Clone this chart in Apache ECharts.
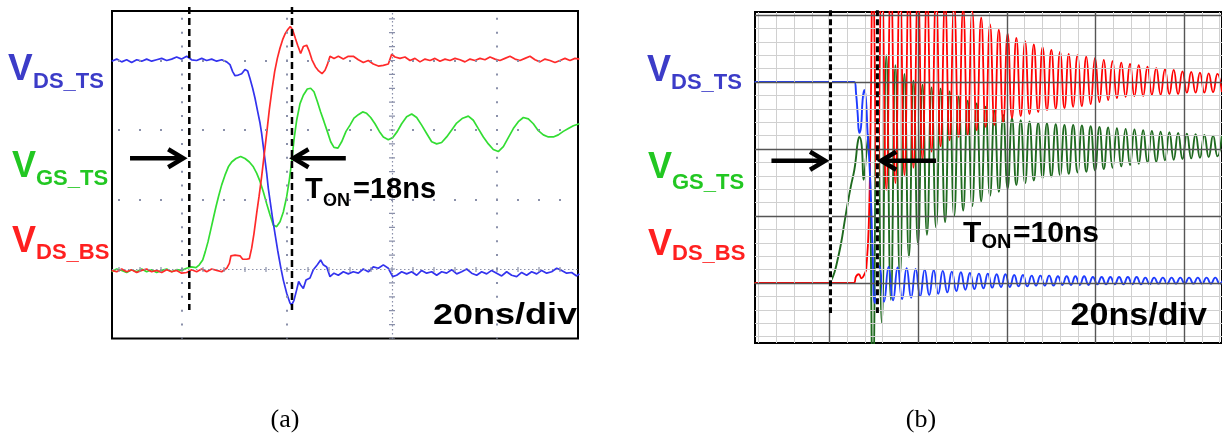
<!DOCTYPE html>
<html><head><meta charset="utf-8">
<script src="https://cdn.jsdelivr.net/npm/echarts@6/dist/echarts.min.js"></script>
<style>html,body{margin:0;padding:0;background:#fff;}#c{width:1222px;height:437px;}</style>
</head><body><div id="c"></div>
<script>
// ===================== DATA =====================
// Panel (a): time in ns (20 ns/div), voltage in divisions
const blueA = [[-13.4,2.99],[-12.44,3.02],[-11.49,2.98],[-10.54,3.01],[-9.59,2.97],[-8.63,3.01],[-7.68,2.99],[-6.73,3.02],[-5.78,2.99],[-4.83,3.01],[-3.87,3.03],[-2.92,3.0],[-1.97,3.02],[-1.02,3.05],[-0.06,3.02],[0.89,3.06],[1.84,3.01],[2.79,3.0],[3.75,3.03],[4.7,3.0],[5.65,3.02],[6.6,2.99],[7.56,3.01],[8.51,2.98],[9.14,2.94],[9.65,2.84],[10.1,2.78],[10.73,2.79],[11.37,2.81],[12.0,2.87],[12.51,2.85],[12.95,2.74],[13.46,2.6],[13.9,2.46],[14.35,2.29],[14.86,2.1],[15.17,1.95],[15.49,1.76],[15.81,1.57],[16.13,1.38],[16.44,1.16],[16.76,0.99],[17.21,0.75],[17.71,0.51],[18.22,0.27],[18.79,0.03],[19.3,-0.16],[19.94,-0.35],[20.57,-0.49],[20.89,-0.52],[21.33,-0.45],[21.84,-0.3],[22.22,-0.18],[22.6,-0.23],[23.11,-0.28],[23.62,-0.16],[24.38,-0.13],[25.02,-0.01],[25.78,0.06],[26.41,0.13],[26.92,0.06],[27.56,0.03],[28.19,-0.11],[28.95,-0.06],[29.78,-0.09],[30.73,-0.04],[31.68,-0.07],[32.63,-0.04],[33.59,-0.06],[34.54,0.0],[35.49,-0.04],[36.44,0.03],[37.4,0.01],[38.35,0.06],[39.3,0.01],[40.13,-0.11],[40.89,-0.09],[41.84,-0.04],[42.79,-0.07],[43.75,-0.04],[44.7,-0.09],[45.65,-0.02],[46.6,-0.06],[47.56,-0.04],[48.51,-0.09],[49.46,-0.04],[50.41,-0.06],[51.37,-0.01],[52.32,-0.07],[53.27,-0.04],[54.22,0.0],[55.17,-0.06],[56.13,-0.09],[57.08,-0.04],[58.03,-0.07],[58.98,-0.02],[59.94,-0.06],[60.89,-0.1],[61.84,-0.04],[62.79,-0.09],[63.75,-0.11],[64.7,-0.05],[65.65,-0.09],[66.6,-0.04],[67.56,-0.07],[68.51,-0.02],[69.46,-0.06],[70.41,-0.04],[71.37,0.01],[72.32,-0.02],[73.27,-0.06],[74.22,-0.05],[75.17,-0.1],[75.68,-0.07]];
const redA = [[-13.4,-0.02],[-12.44,-0.04],[-11.49,0.0],[-10.54,-0.04],[-9.59,-0.01],[-8.63,-0.05],[-7.68,-0.02],[-6.73,0.0],[-5.78,-0.04],[-4.83,-0.02],[-3.87,-0.05],[-2.92,-0.01],[-1.97,-0.04],[-1.02,-0.02],[-0.06,-0.06],[0.89,-0.05],[1.84,-0.01],[2.79,-0.04],[3.75,0.0],[4.7,-0.04],[5.65,0.0],[6.6,-0.02],[7.56,-0.04],[8.51,0.01],[9.02,0.08],[9.33,0.19],[10.1,0.2],[11.05,0.19],[11.56,0.14],[12.32,0.14],[12.83,0.15],[13.27,0.3],[13.71,0.51],[14.22,0.8],[14.67,1.04],[15.17,1.33],[15.62,1.62],[16.13,1.95],[16.63,2.29],[17.14,2.58],[17.65,2.84],[18.16,3.03],[18.67,3.18],[19.17,3.3],[19.68,3.39],[20.19,3.45],[20.63,3.49],[21.08,3.44],[21.59,3.32],[22.03,3.22],[22.6,3.1],[23.11,3.2],[23.75,3.22],[24.25,3.13],[24.76,3.01],[25.4,2.91],[26.03,2.85],[26.67,2.81],[27.24,2.86],[27.68,2.94],[28.19,3.06],[28.95,3.03],[29.78,3.06],[30.73,3.02],[31.68,3.06],[32.63,3.06],[33.59,3.01],[34.54,2.97],[35.49,3.0],[36.44,2.95],[37.4,2.92],[38.35,2.93],[39.3,2.95],[39.94,3.09],[40.57,3.05],[41.52,3.03],[42.48,3.05],[43.43,3.0],[44.38,3.03],[45.33,2.98],[46.29,3.02],[47.24,3.0],[48.19,3.03],[49.14,2.99],[50.1,3.02],[51.05,3.0],[52.0,3.03],[52.95,3.01],[53.9,2.98],[54.86,3.02],[55.81,3.0],[56.76,3.03],[57.71,3.01],[58.67,3.05],[59.62,3.02],[60.57,3.0],[61.52,3.03],[62.48,3.06],[63.43,3.02],[64.38,3.0],[65.33,3.03],[66.29,3.06],[67.24,3.01],[68.19,2.98],[69.14,3.02],[70.1,3.0],[71.05,2.97],[72.0,3.0],[72.95,3.03],[73.9,3.0],[74.86,3.03],[75.68,3.02]];
const greenA = [[-13.4,-0.04],[-12.44,0.0],[-11.49,-0.02],[-10.54,-0.05],[-9.59,-0.01],[-8.63,-0.04],[-7.68,0.0],[-6.73,-0.04],[-5.78,-0.01],[-4.83,-0.05],[-3.87,-0.02],[-2.92,0.0],[-1.97,-0.04],[-1.02,-0.01],[-0.06,-0.02],[0.89,0.01],[1.84,0.03],[2.67,0.02],[3.3,0.06],[3.94,0.13],[4.44,0.25],[4.95,0.39],[5.46,0.56],[5.97,0.73],[6.48,0.9],[6.98,1.05],[7.56,1.21],[8.19,1.35],[8.83,1.47],[9.46,1.54],[10.29,1.59],[11.17,1.62],[12.0,1.59],[12.83,1.54],[13.59,1.47],[14.22,1.38],[14.86,1.26],[15.49,1.11],[16.13,0.94],[16.76,0.78],[17.4,0.63],[18.03,0.61],[18.67,0.68],[19.3,0.82],[19.94,1.04],[20.44,1.28],[20.89,1.54],[21.33,1.86],[21.84,2.14],[22.48,2.38],[23.11,2.5],[23.87,2.59],[24.51,2.6],[25.14,2.55],[25.78,2.41],[26.41,2.26],[27.05,2.12],[27.68,1.98],[28.32,1.83],[28.95,1.75],[29.71,1.74],[30.41,1.83],[31.24,1.98],[32.0,2.07],[32.76,2.17],[33.59,2.22],[34.41,2.26],[35.17,2.24],[35.94,2.18],[36.76,2.09],[37.59,1.98],[38.35,1.9],[39.3,1.86],[40.13,1.89],[41.02,1.98],[41.84,2.09],[42.79,2.19],[43.75,2.23],[44.7,2.18],[45.65,2.07],[46.6,1.95],[47.56,1.83],[48.51,1.8],[49.46,1.82],[50.41,1.9],[51.37,2.0],[52.32,2.1],[53.46,2.17],[54.54,2.2],[55.49,2.14],[56.44,2.02],[57.4,1.9],[58.35,1.8],[59.3,1.72],[60.25,1.69],[61.21,1.76],[62.16,1.89],[63.11,2.02],[64.06,2.12],[65.02,2.18],[65.97,2.16],[66.92,2.09],[67.87,1.99],[68.83,1.93],[69.78,1.9],[70.73,1.9],[71.68,1.93],[72.63,1.98],[73.59,2.02],[74.54,2.06],[75.68,2.09]];
const tOnA = [1.39, 20.95];                 // dashed T_ON markers (ns)
const arrowsA = [[-9.9, 1.593, 0.9], [31.2, 1.593, 20.57]]; // [from t, level, to t]

// Panel (b): time in ns (20 ns/div), voltage in divisions
const ringPeakT = [9.75,11.79,13.83,15.87,17.90,19.94,21.98,24.02,26.06,28.10,30.14,32.18,34.20,36.19,38.18,40.16,42.13,44.10,46.07,48.05,50.02,51.99,53.96,55.93,57.91,59.88,61.85,63.82,65.79,67.77,69.74,71.71,73.68,75.65,77.62,79.60,81.57,83.54,85.51,87.48];
const ringTroughT = [10.77,12.81,14.85,16.89,18.92,20.96,23.00,25.04,27.08,29.12,31.16,33.19,35.20,37.19,39.17,41.15,43.12,45.09,47.06,49.03,51.01,52.98,54.95,56.92,58.89,60.87,62.84,64.81,66.78,68.76,70.73,72.70,74.67,76.64,78.61,80.59,82.56,84.53,86.50,88.47];
const redBPre = [[-16.9,0],[5.4,0],[6.0,0.1],[6.6,0.13],[7.2,0.07],[7.8,0.12],[8.3,0.22],[8.9,1.0],[9.3,2.6]];
const redBPeaks = [4.7,4.6,4.55,4.5,4.45,4.4,4.35,4.3,4.22,4.16,4.1,4.06,3.96,3.86,3.78,3.72,3.66,3.61,3.56,3.52,3.48,3.45,3.42,3.40,3.38,3.36,3.33,3.31,3.29,3.27,3.25,3.23,3.21,3.19,3.18,3.16,3.15,3.14,3.13,3.12];
const redBTroughs = [1.28,1.39,1.49,1.61,1.72,1.84,1.96,2.04,2.13,2.18,2.21,2.28,2.33,2.36,2.40,2.46,2.49,2.52,2.55,2.58,2.60,2.61,2.63,2.64,2.67,2.70,2.73,2.76,2.78,2.79,2.79,2.81,2.81,2.82,2.82,2.84,2.84,2.84,2.85,2.85];
const greenBPre = [[-16.9,0],[0,0],[0.38,0.04],[1.12,0.16],[1.79,0.34],[2.62,0.6],[3.36,0.9],[4.1,1.19],[4.86,1.46],[5.6,1.69],[5.98,1.88],[6.34,2.09],[6.72,2.18],[7.24,2.06],[7.69,1.54],[8.22,1.88],[8.74,2.21]];
const greenBTroughs = [-1.5,-0.6,-0.25,0.09,0.39,0.58,0.72,0.83,0.91,1.0,1.08,1.15,1.22,1.3,1.36,1.41,1.46,1.49,1.53,1.57,1.59,1.61,1.63,1.65,1.66,1.68,1.7,1.72,1.74,1.76,1.78,1.8,1.81,1.83,1.84,1.85,1.86,1.87,1.88,1.89];
const greenBPeaks = [3.58,3.4,3.25,3.12,3.02,2.96,2.92,2.9,2.86,2.78,2.72,2.68,2.63,2.57,2.51,2.46,2.43,2.41,2.39,2.38,2.37,2.36,2.36,2.35,2.34,2.33,2.32,2.31,2.3,2.29,2.28,2.27,2.26,2.25,2.24,2.23,2.22,2.21,2.2,2.2];
const blueBPre = [[-16.9,3.0],[5.6,3.0],[5.98,2.83],[6.34,2.53],[6.72,2.24],[7.1,2.33],[7.46,2.73],[7.84,2.88],[8.22,2.73],[8.58,2.23],[8.96,1.84],[9.34,1.24],[9.71,0.49]];
const blueBTroughs = [-0.30,-0.28,-0.26,-0.24,-0.22,-0.20,-0.18,-0.16,-0.14,-0.12,-0.10,-0.09,-0.08,-0.07,-0.06,-0.06,-0.05,-0.05,-0.04,-0.04,-0.04,-0.03,-0.03,-0.03,-0.03,-0.02,-0.02,-0.02,-0.02,-0.02,-0.02,-0.02,-0.01,-0.01,-0.01,-0.01,-0.01,-0.01,-0.01,-0.01];
const blueBPeaks = [0.25,0.24,0.23,0.22,0.21,0.20,0.19,0.18,0.17,0.16,0.15,0.14,0.14,0.13,0.13,0.12,0.12,0.11,0.11,0.11,0.10,0.10,0.10,0.10,0.09,0.09,0.09,0.09,0.09,0.09,0.08,0.08,0.08,0.08,0.08,0.08,0.08,0.08,0.08,0.08];
const blueBLag = 0.5;
const tOnB = [0.22, 10.8];
const arrowsB = [[-13.1, 1.825, -0.22], [24.0, 1.825, 10.85]];

// ===================== BUILD =====================
function ring(pre, atPeak, atTrough, lag) {
  const out = pre.slice();
  for (let i = 0; i < ringPeakT.length; i++) {
    out.push([ringPeakT[i] + lag, atPeak[i]]);
    out.push([ringTroughT[i] + lag, atTrough[i]]);
  }
  return out;
}
const redB = ring(redBPre, redBPeaks, redBTroughs, 0);
const greenB = ring(greenBPre, greenBTroughs, greenBPeaks, 0);
const blueB = ring(blueBPre, blueBTroughs, blueBPeaks, blueBLag);

const LS = '"Liberation Sans", Arial, sans-serif';
const dotC = '#8a90aa';
// panel a scope graticule (dotted)
const gridA = [];
[1, 2, 3].forEach(v => gridA.push({yAxis: v, lineStyle: {color: dotC, width: 2, type: [2, 19], dashOffset: 15}}));
[0, 20, 60].forEach(t => gridA.push({xAxis: t, lineStyle: {color: dotC, width: 2, type: [2, 11.9], dashOffset: 1}}));
gridA.push({yAxis: 0, lineStyle: {color: dotC, width: 1.2, type: [1.5, 2.5]}});
gridA.push({yAxis: 0, lineStyle: {color: dotC, width: 5, type: [1.2, 19.8], dashOffset: 14.6}});
gridA.push({xAxis: 40, lineStyle: {color: dotC, width: 1.2, type: [1.5, 2.5]}});
gridA.push({xAxis: 40, lineStyle: {color: dotC, width: 6, type: [1.2, 12.7], dashOffset: 0.6}});
// panel b graticule (solid)
const gridB = [];
const minorB = {color: '#d0d0d0', width: 1, type: 'solid'};
const majorB = {color: '#555555', width: 1.4, type: 'solid'};
for (let i = 0; i <= 26; i++) {
  const t = -16 + 4 * i;
  gridB.push({xAxis: t, lineStyle: t % 20 === 0 ? majorB : minorB});
}
for (let i = 0; i <= 24; i++) {
  const v = Math.round((-0.8 + 0.2 * i) * 10) / 10;
  gridB.push({yAxis: v, lineStyle: Number.isInteger(v) ? majorB : minorB});
}
gridB.sort((a, b) => (a.lineStyle === majorB ? 1 : 0) - (b.lineStyle === majorB ? 1 : 0));
function gridSeries(idx, lines, z) {
  return {type: 'line', xAxisIndex: idx, yAxisIndex: idx, data: [], z: z, silent: true,
    markLine: {silent: true, symbol: 'none', label: {show: false}, animation: false, lineStyle: {type: 'solid'}, data: lines}};
}
function trace(idx, data, color, width, smooth, z) {
  return {type: 'line', xAxisIndex: idx, yAxisIndex: idx, data: data, showSymbol: false, symbol: 'none',
    smooth: smooth, lineStyle: {color: color, width: width}, z: z, silent: true, animation: false};
}
function dashed(idx, t, vTop, vBot, style, z) {
  return {type: 'line', xAxisIndex: idx, yAxisIndex: idx, data: [[t, vTop], [t, vBot]], clip: false,
    showSymbol: false, symbol: 'none', lineStyle: style, z: z, silent: true, animation: false};
}

const series = [
  gridSeries(0, gridA, 1),
  trace(0, greenA, '#33dd33', 1.7, false, 2),
  trace(0, blueA, '#3333ee', 1.7, false, 3),
  trace(0, redA, '#ff2a2a', 1.7, false, 4),
  gridSeries(1, gridB, 1),
  trace(1, greenB, '#1f6a1f', 1.9, 0.5, 2),
  trace(1, redB, '#ff0000', 1.8, 0.5, 3),
  trace(1, blueB, '#1e3cff', 1.9, 0.5, 4)
];
tOnA.forEach(t => series.push(dashed(0, t, 3.77, -0.59, {color: '#000', width: 2.5, type: [7, 4]}, 6)));
tOnB.forEach(t => {
  series.push(dashed(1, t, 4.07, -0.45, {color: '#fff', width: 3}, 6));
  series.push(dashed(1, t, 4.07, -0.45, {color: '#000', width: 3, type: [6, 3]}, 7));
});

const chart = echarts.init(document.getElementById('c'));
chart.setOption({
  animation: false,
  backgroundColor: '#fff',
  grid: [
    {left: 112, top: 11, width: 466, height: 327.5, show: true, borderColor: '#000', borderWidth: 2, backgroundColor: '#fff'},
    {left: 755, top: 12, width: 470, height: 331, show: true, borderColor: '#000', borderWidth: 2, backgroundColor: '#fff'}
  ],
  xAxis: [
    {type: 'value', gridIndex: 0, min: -13.333, max: 75.43, show: false},
    {type: 'value', gridIndex: 1, min: -16.81, max: 88.51, show: false}
  ],
  yAxis: [
    {type: 'value', gridIndex: 0, min: -1, max: 3.712, show: false},
    {type: 'value', gridIndex: 1, min: -0.896, max: 4.045, show: false}
  ],
  series: series
});

// ===================== ANNOTATIONS =====================
const graphics = [];
function arrow(gi, a) {
  const p0 = chart.convertToPixel({gridIndex: gi}, [a[0], a[1]]);
  const p1 = chart.convertToPixel({gridIndex: gi}, [a[2], a[1]]);
  const d = Math.sign(p1[0] - p0[0]);
  const vx = p1[0] - d * 3.5, vy = p1[1];
  graphics.push({type: 'line', z: 50, silent: true, shape: {x1: p0[0], y1: p0[1], x2: vx, y2: vy}, style: {stroke: '#000', lineWidth: 4.5}});
  graphics.push({type: 'polyline', z: 50, silent: true, shape: {points: [[vx - d * 15, vy - 9], [vx, vy], [vx - d * 15, vy + 9]]}, style: {stroke: '#000', lineWidth: 4.5, fill: null, lineJoin: 'miter'}});
}
arrowsA.forEach(a => arrow(0, a));
arrowsB.forEach(a => arrow(1, a));

function txt(s, x, y, size, color, extra, family, weight) {
  const g = {type: 'text', x: x, y: y, z: 100, silent: true,
    style: {text: s, fill: color, font: (weight || 'bold') + ' ' + size + 'px ' + (family || LS), align: 'left', verticalAlign: 'middle'}};
  if (extra) { Object.assign(g, extra.el || {}); Object.assign(g.style, extra.style || {}); }
  graphics.push(g);
}
const cB = '#3c3cc8', cG = '#22c722', cR = '#ff2020';
// panel a labels
txt('V', 8, 70, 37, cB); txt('DS_TS', 33, 81.5, 22, cB);
txt('V', 12, 167, 36, cG); txt('GS_TS', 36, 179, 22, cG);
txt('V', 12, 242.5, 36, cR); txt('DS_BS', 36, 253, 22, cR);
// panel b labels
txt('V', 647, 71.5, 36, cB); txt('DS_TS', 671, 82.5, 22, cB);
txt('V', 648, 168.5, 36, cG); txt('GS_TS', 672, 182.5, 22, cG);
txt('V', 648, 245.5, 36, cR); txt('DS_BS', 672, 254, 22, cR);
// T_ON
txt('T', 305, 190, 29, '#000'); txt('ON', 323, 201, 18, '#000'); txt('=18ns', 353, 190, 29, '#000');
txt('T', 963, 234, 30, '#000'); txt('ON', 981.5, 242.5, 20, '#000'); txt('=10ns', 1013, 234, 30, '#000');
// scale
txt('20ns/div', 577, 316, 30, '#000', {el: {scaleX: 1.2}, style: {align: 'right'}});
txt('20ns/div', 1207, 316.5, 31, '#000', {el: {scaleX: 1.1}, style: {align: 'right'}});
// captions
txt('(a)', 285, 420, 26, '#000', {style: {align: 'center'}}, '"Liberation Serif", "Times New Roman", serif', 'normal');
txt('(b)', 921, 420, 26, '#000', {style: {align: 'center'}}, '"Liberation Serif", "Times New Roman", serif', 'normal');

chart.setOption({graphic: graphics});
</script>
</body></html>
